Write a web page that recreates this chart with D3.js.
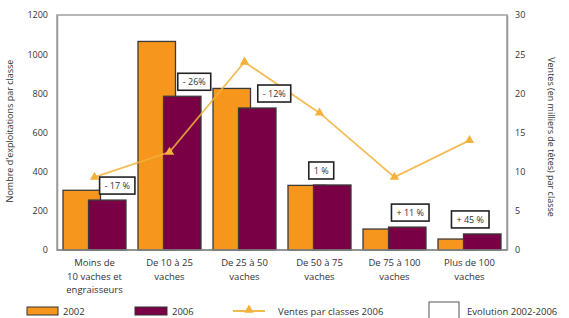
<!DOCTYPE html>
<html><head><meta charset="utf-8">
<script src="https://cdn.jsdelivr.net/npm/d3@7"></script>
<style>body{margin:0;background:#fff}svg{display:block;font-family:"Open Sans",Lato,sans-serif}</style>
</head><body><svg id="c" width="569" height="318"></svg>
<script>
const categories = [
  ["Moins de","10 vaches et","engraisseurs"],
  ["De 10 à 25","vaches"],
  ["De 25 à 50","vaches"],
  ["De 50 à 75","vaches"],
  ["De 75 à 100","vaches"],
  ["Plus de 100","vaches"]
];
const values2002 = [305, 1065, 825, 330, 107, 56];
const values2006 = [255, 785, 725, 332, 117, 82];
const ventes2006 = [9.3, 12.5, 24.0, 17.5, 9.3, 14.0];
const evolution = ["- 17 %", "- 26%", "- 12%", "1 %", "+ 11 %", "+ 45 %"];
const leftTicks = [0, 200, 400, 600, 800, 1000, 1200];
const rightTicks = [0, 5, 10, 15, 20, 25, 30];

const C_ORANGE = "#f7961d", C_PURPLE = "#7a0046", C_LINE = "#f2b13a";
const svg = d3.select("#c");
const L = 57, R = 507, T = 15, B = 250;
const x = d3.scaleBand().domain(d3.range(categories.length)).range([L, R]).padding(0);
const yL = d3.scaleLinear().domain([0, 1200]).range([B, T]);
const yR = d3.scaleLinear().domain([0, 30]).range([B, T]);
const bw = x.bandwidth();

// frame
svg.append("rect").attr("x", L).attr("y", T).attr("width", R - L).attr("height", B - T)
  .attr("fill", "none").attr("stroke", "#a0a0a0").attr("stroke-width", 1.5);

// axes
const axL = svg.append("g").attr("transform", `translate(${L},0)`)
  .call(d3.axisLeft(yL).tickValues(leftTicks).tickFormat(d3.format("d")).tickSize(0).tickPadding(9));
const axR = svg.append("g").attr("transform", `translate(${R},0)`)
  .call(d3.axisRight(yR).tickValues(rightTicks).tickFormat(d3.format("d")).tickSize(0).tickPadding(8));
[axL, axR].forEach(a => {
  a.select(".domain").attr("stroke", "#999").attr("stroke-width", 1.5);
  a.selectAll("text").attr("font-size", 9).attr("fill", "#333").attr("font-family", "'Open Sans',sans-serif");
});

// bars
svg.append("g").selectAll("rect").data(values2002).join("rect")
  .attr("x", (d, i) => x(i) + bw * 0.08).attr("width", bw * 0.5)
  .attr("y", d => yL(d)).attr("height", d => B - yL(d))
  .attr("fill", C_ORANGE).attr("stroke", "#3a3a3a").attr("stroke-width", 1.3);
svg.append("g").selectAll("rect").data(values2006).join("rect")
  .attr("x", (d, i) => x(i) + bw * 0.42).attr("width", bw * 0.5)
  .attr("y", d => yL(d)).attr("height", d => B - yL(d))
  .attr("fill", C_PURPLE).attr("stroke", "#3a3a3a").attr("stroke-width", 1.3);

// bottom axis line
svg.append("line").attr("x1", L).attr("x2", R).attr("y1", B).attr("y2", B)
  .attr("stroke", "#888").attr("stroke-width", 1.5);

// line series
const cx = i => x(i) + bw / 2;
svg.append("path").datum(ventes2006)
  .attr("d", d3.line().x((d, i) => cx(i)).y(d => yR(d)))
  .attr("fill", "none").attr("stroke", C_LINE).attr("stroke-width", 1.8).attr("opacity", 0.85);
svg.append("g").selectAll("path").data(ventes2006).join("path")
  .attr("transform", (d, i) => `translate(${cx(i)},${yR(d)})`)
  .attr("d", d3.symbol(d3.symbolTriangle, 38)).attr("fill", C_LINE);

// evolution boxes
const nudge = [10, 12, 17, -11, 3, -12];
const lab = svg.append("g");
evolution.forEach((t, i) => {
  const pc = x(i) + bw * 0.42 + bw * 0.25 + nudge[i];
  const top = yL(values2006[i]);
  const g = lab.append("g");
  const tx = g.append("text").text(t).attr("x", pc).attr("y", top - 11)
    .attr("text-anchor", "middle").attr("font-size", 9).attr("fill", "#333");
  const w = tx.node().getComputedTextLength() + 10;
  g.insert("rect", "text").attr("x", pc - w / 2).attr("y", top - 23).attr("width", w).attr("height", 17)
    .attr("fill", "#fff").attr("stroke", "#222").attr("stroke-width", 1.6);
});

// x labels
categories.forEach((lines, i) => {
  const t = svg.append("text").attr("text-anchor", "middle").attr("font-size", 9.5).attr("fill", "#333");
  lines.forEach((s, k) => t.append("tspan").attr("x", cx(i)).attr("y", 266 + k * 13.5).text(s));
});

// axis titles
svg.append("text").attr("transform", "translate(13,131) rotate(-90)").attr("text-anchor", "middle")
  .attr("font-size", 9).attr("fill", "#333").text("Nombre d'exploitations par classe");
svg.append("text").attr("transform", "translate(548,137) rotate(90)").attr("text-anchor", "middle")
  .attr("font-size", 9).attr("fill", "#333").text("Ventes (en milliers de têtes) par classe");

// legend
const lg = svg.append("g").attr("font-size", 9.5).attr("fill", "#333");
lg.append("rect").attr("x", 27).attr("y", 307).attr("width", 31).attr("height", 8).attr("fill", C_ORANGE).attr("stroke", "#333");
lg.append("text").attr("x", 63).attr("y", 315).text("2002");
lg.append("rect").attr("x", 135).attr("y", 307).attr("width", 32).attr("height", 8).attr("fill", C_PURPLE).attr("stroke", "#333");
lg.append("text").attr("x", 172).attr("y", 315).text("2006");
lg.append("line").attr("x1", 233).attr("x2", 265).attr("y1", 311).attr("y2", 311).attr("stroke", C_LINE).attr("stroke-width", 1.8);
lg.append("path").attr("transform", "translate(249,310)").attr("d", d3.symbol(d3.symbolTriangle, 38)).attr("fill", C_LINE);
lg.append("text").attr("x", 278).attr("y", 315).text("Ventes par classes 2006");
lg.append("rect").attr("x", 429).attr("y", 302).attr("width", 30).attr("height", 20).attr("fill", "#fff").attr("stroke", "#555");
lg.append("text").attr("x", 467).attr("y", 315).text("Evolution 2002-2006");
</script></body></html>
